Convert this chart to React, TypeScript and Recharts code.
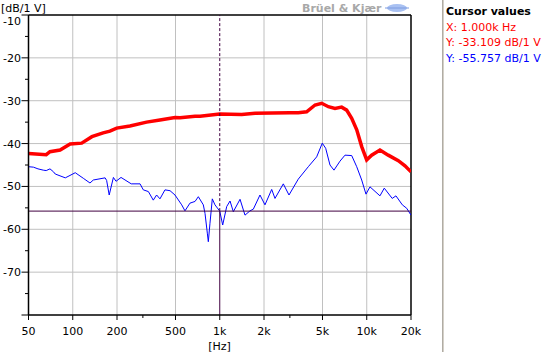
import React from 'react';
import { LineChart, Line, XAxis, YAxis, ReferenceLine, CartesianGrid } from 'recharts';

const FONT = '"DejaVu Sans", Verdana, sans-serif';

// Red series (upper curve)
const redFreq = [50, 66, 70, 82, 96, 115, 135, 161, 179, 199, 245, 318, 392, 496, 537, 679, 734, 1000, 1410, 1740, 3000, 3420, 3900, 4450, 4940, 5480, 6080, 6750, 7300, 7900, 8550, 9240, 9990, 10800, 12300, 14000, 16400, 18200, 20000];
const redDb = [-42.3, -42.6, -41.9, -41.5, -40.1, -39.9, -38.4, -37.5, -37.1, -36.4, -35.9, -35.0, -34.5, -33.9, -34.0, -33.6, -33.6, -33.1, -33.2, -32.9, -32.8, -32.8, -32.6, -31.0, -30.6, -31.4, -31.8, -31.5, -32.2, -34.1, -36.8, -40.7, -43.8, -42.7, -41.5, -42.7, -44.0, -45.2, -46.6];

// Blue series (lower curve)
const blueFreq = [50, 54, 58, 63, 66, 70, 74, 76, 89, 104, 118, 131, 138, 166, 170, 177, 189, 197, 213, 250, 287, 302, 327, 353, 372, 392, 424, 459, 496, 551, 580, 627, 679, 715, 773, 794, 823, 836, 858, 890, 928, 1000, 1047, 1115, 1175, 1237, 1374, 1485, 1606, 1692, 1878, 2031, 2256, 2376, 2706, 2958, 3420, 4003, 4565, 4984, 5256, 5623, 5985, 6577, 7112, 7900, 8545, 9240, 9880, 10520, 12300, 13160, 14900, 15800, 17460, 18700, 20000];
const blueDb = [-45.4, -45.5, -45.9, -46.2, -46.3, -45.9, -46.6, -47.1, -48.0, -46.8, -48.1, -49.2, -48.5, -48.0, -48.6, -52.0, -47.9, -48.8, -47.9, -49.4, -49.4, -50.8, -51.2, -53.2, -52.0, -52.9, -50.8, -51.0, -52.0, -54.3, -55.7, -53.9, -53.5, -52.4, -54.3, -56.3, -60.9, -62.9, -58.6, -52.9, -54.3, -55.757, -59.0, -54.7, -53.4, -55.9, -53.0, -56.7, -55.7, -55.3, -52.0, -54.3, -50.7, -52.8, -49.4, -52.0, -48.3, -45.4, -43.1, -39.9, -41.1, -45.0, -46.2, -44.1, -42.7, -42.8, -45.4, -48.5, -51.8, -50.1, -52.2, -50.4, -52.8, -52.2, -54.3, -55.1, -56.7];

// Axes
const xTicks = [50, 100, 200, 300, 500, 1000, 2000, 3000, 5000, 10000, 20000];
const xMajor = [50, 100, 200, 500, 1000, 2000, 5000, 10000, 20000];
const xGrid = [100, 200, 500, 2000, 5000, 10000];
const yTicks = [-80, -75, -70, -65, -60, -55, -50, -45, -40, -35, -30, -25, -20, -15, -10];
const yGrid = [-20, -30, -40, -50, -60, -70];
const xDomain = [50, 20000];
const yDomain = [-80, -10];

// Cursor
const cursorX = 1000;
const cursorRed = -33.109;
const cursorBlue = -55.757;

const redData = redFreq.map((f, i) => ({ f, v: redDb[i] }));
const blueData = blueFreq.map((f, i) => ({ f, v: blueDb[i] }));

const fmtHz = (f: number) => (f >= 1000 ? `${f / 1000}k` : `${f}`);
const fmtCursorX = (f: number) => (f >= 1000 ? `${(f / 1000).toFixed(3)}k` : f.toFixed(3));

const XTick = (props: any) => {
  const { x, y, payload } = props;
  const major = xMajor.includes(payload.value);
  return (
    <g>
      <line x1={x} x2={x} y1={y} y2={y + (major ? 5 : 3)} stroke="#000" strokeWidth={1} />
      {major && (
        <text x={x} y={y + 19.5} textAnchor="middle" fontFamily={FONT} fontSize={11} fill="#000">
          {fmtHz(payload.value)}
        </text>
      )}
    </g>
  );
};

const YTick = (props: any) => {
  const { x, y, payload } = props;
  const v = payload.value;
  const major = v % 10 === 0;
  const showLabel = major && v !== -80;
  const ly = v === -10 ? y + 6 : y;
  return (
    <g>
      <line x1={x - (major ? 7 : 3.5)} x2={x} y1={y} y2={y} stroke="#000" strokeWidth={1} />
      {showLabel && (
        <text x={x - 7.5} y={ly + 4} textAnchor="end" fontFamily={FONT} fontSize={11} fill="#000">
          {v}
        </text>
      )}
    </g>
  );
};

export default function App() {
  return (
    <div style={{ position: 'absolute', left: 0, top: 0, width: 554, height: 352, background: '#fff' }}>
      <LineChart width={554} height={352} margin={{ top: 15, right: 143, bottom: 0, left: 0 }}>
        <CartesianGrid stroke="#c0c0c0" verticalValues={xGrid} horizontalValues={yGrid} />
        <XAxis
          dataKey="f"
          type="number"
          scale="log"
          domain={xDomain}
          ticks={xTicks}
          interval={0}
          allowDataOverflow
          height={37}
          tickSize={0}
          tickMargin={0}
          tickLine={false}
          tick={<XTick />}
          axisLine={{ stroke: '#000', strokeWidth: 1.5 }}
        />
        <YAxis
          type="number"
          domain={yDomain}
          ticks={yTicks}
          interval={0}
          allowDataOverflow
          width={28.5}
          tickSize={0}
          tickMargin={0}
          tickLine={false}
          tick={<YTick />}
          axisLine={{ stroke: '#000', strokeWidth: 1.5 }}
        />
        <ReferenceLine y={yDomain[1]} stroke="#000" strokeWidth={1.5} />
        <ReferenceLine x={xDomain[1]} stroke="#000" strokeWidth={1.5} />
        <Line data={redData} dataKey="v" stroke="#ff0000" strokeWidth={3.5} dot={false} isAnimationActive={false} type="linear" />
        <Line data={blueData} dataKey="v" stroke="#0000ff" strokeWidth={1} dot={false} isAnimationActive={false} type="linear" />
        <ReferenceLine y={cursorBlue} stroke="#400040" strokeWidth={1} />
        <ReferenceLine
          segment={[{ x: cursorX, y: yDomain[0] }, { x: cursorX, y: cursorBlue }]}
          stroke="#400040"
          strokeWidth={1}
        />
        <ReferenceLine
          segment={[{ x: cursorX, y: cursorBlue }, { x: cursorX, y: yDomain[1] }]}
          stroke="#400040"
          strokeWidth={1}
          strokeDasharray="3 2"
        />
      </LineChart>
      <svg width={554} height={352} style={{ position: 'absolute', left: 0, top: 0, pointerEvents: 'none' }}>
        <text x={1} y={11.5} fontFamily={FONT} fontSize={11} fill="#000">[dB/1 V]</text>
        <text x={302} y={12} fontFamily={FONT} fontSize={11} fontWeight="bold" fill="#a8a8a8">Brüel &amp; Kjær</text>
        <ellipse cx={397} cy={8} rx={10} ry={4} fill="#a9c1f2" />
        <line x1={385} x2={409} y1={8} y2={8} stroke="#7c9be0" strokeWidth={1} />
        <text x={219.5} y={350} textAnchor="middle" fontFamily={FONT} fontSize={11} fill="#000">[Hz]</text>
        <rect x={442} y={0} width={2} height={352} fill="#d4d0c8" />
        <line x1={442.5} x2={442.5} y1={0} y2={352} stroke="#b0aca4" strokeWidth={1} />
        <text x={446} y={15} fontFamily={FONT} fontSize={11} fontWeight="bold" fill="#000">Cursor values</text>
        <text x={446} y={30.5} fontFamily={FONT} fontSize={11} fill="#ff0000">{`X: ${fmtCursorX(cursorX)} Hz`}</text>
        <text x={446} y={46} fontFamily={FONT} fontSize={11} fill="#ff0000">{`Y: ${cursorRed.toFixed(3)} dB/1 V`}</text>
        <text x={446} y={62} fontFamily={FONT} fontSize={11} fill="#0000ff">{`Y: ${cursorBlue.toFixed(3)} dB/1 V`}</text>
      </svg>
    </div>
  );
}
